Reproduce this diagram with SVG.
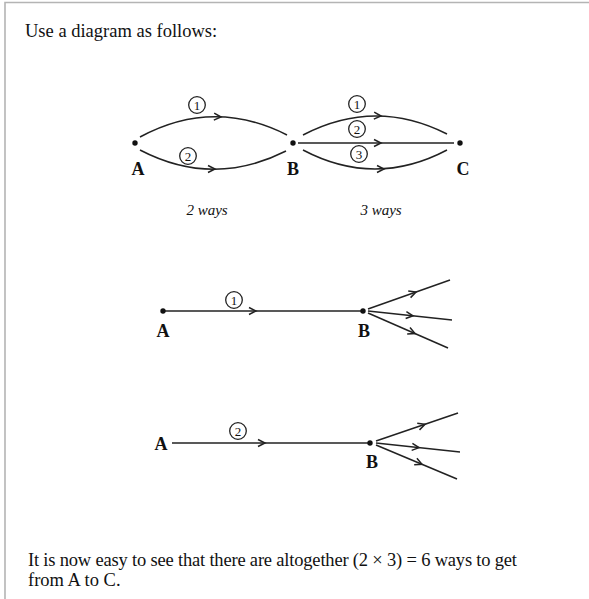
<svg xmlns="http://www.w3.org/2000/svg" xmlns:xlink="http://www.w3.org/1999/xlink" width="589" height="599" viewBox="0 0 589 599">
<style>
text{font-family:"Liberation Serif","Times New Roman",serif;fill:#111}
.body{font-size:18.5px}
.lbl{font-size:18px;font-weight:bold;text-anchor:middle}
.ways{font-size:15px;font-style:italic;text-anchor:middle}
.num{font-size:13px;text-anchor:middle}
.edge{fill:none;stroke:#222;stroke-width:1.5}
.ring{fill:#fff;stroke:#222;stroke-width:1.3}
.dot{fill:#111}
.chev{fill:none;stroke:#222;stroke-width:1.5;stroke-linejoin:miter}
</style>
<defs>
<path id="chev" class="chev" d="M-7,-3.5 L0,0 L-7,3.5"/>
</defs>
<rect width="589" height="599" fill="#fff"/>
<path d="M5,599 V2.5 H589" fill="none" stroke="#b4b4b4" stroke-width="1.6"/>

<text class="body" x="25" y="37">Use a diagram as follows:</text>

<g id="connectors">
  <path class="edge" d="M140,137 Q213,97.5 287,135"/>
  <use xlink:href="#chev" transform="translate(221,117) rotate(3)"/>
  <path class="edge" d="M140,150 Q213,188 286,151"/>
  <use xlink:href="#chev" transform="translate(215,169)"/>
  <path class="edge" d="M303,135 Q375,97.5 447,134"/>
  <use xlink:href="#chev" transform="translate(381,116) rotate(3)"/>
  <path class="edge" d="M298,143 H454"/>
  <use xlink:href="#chev" transform="translate(381,143)"/>
  <path class="edge" d="M303,150 Q375,188 447,150"/>
  <use xlink:href="#chev" transform="translate(384,169)"/>
  <path class="edge" d="M163,311 H363"/>
  <use xlink:href="#chev" transform="translate(256,311)"/>
  <path class="edge" d="M368,309 L450,280"/>
  <use xlink:href="#chev" transform="translate(416,292) rotate(-19.5)"/>
  <path class="edge" d="M368,311 L452,320"/>
  <use xlink:href="#chev" transform="translate(413,315.8) rotate(6.1)"/>
  <path class="edge" d="M368,313 L448,348"/>
  <use xlink:href="#chev" transform="translate(415,333.5) rotate(23.6)"/>
  <path class="edge" d="M172,443 H370"/>
  <use xlink:href="#chev" transform="translate(265,443)"/>
  <path class="edge" d="M376,441 L458,413"/>
  <use xlink:href="#chev" transform="translate(425,424.3) rotate(-18.9)"/>
  <path class="edge" d="M376,443 L460,452"/>
  <use xlink:href="#chev" transform="translate(419,447.6) rotate(6.1)"/>
  <path class="edge" d="M376,445 L457,479"/>
  <use xlink:href="#chev" transform="translate(422,464.3) rotate(22.8)"/>
</g>

<g id="path-labels">
  <circle class="ring" cx="197" cy="105" r="8.3"/><text class="num" x="197" y="109.5">1</text>
  <circle class="ring" cx="188" cy="156" r="8.3"/><text class="num" x="188" y="160.5">2</text>
  <circle class="ring" cx="357" cy="104" r="8.3"/><text class="num" x="357" y="108.5">1</text>
  <circle class="ring" cx="357" cy="129" r="8.3"/><text class="num" x="357" y="133.5">2</text>
  <circle class="ring" cx="359" cy="154" r="8.3"/><text class="num" x="359" y="158.5">3</text>
  <circle class="ring" cx="234" cy="300" r="8.3"/><text class="num" x="234" y="304.5">1</text>
  <circle class="ring" cx="238" cy="431" r="8.3"/><text class="num" x="238" y="435.5">2</text>
</g>

<g id="node-A1"><circle class="dot" cx="135" cy="143" r="2.7"/><text class="lbl" x="138" y="175">A</text></g>
<g id="node-B1"><circle class="dot" cx="293" cy="143" r="2.7"/><text class="lbl" x="293" y="175">B</text></g>
<g id="node-C1"><circle class="dot" cx="460" cy="143" r="2.7"/><text class="lbl" x="463" y="175">C</text></g>
<g id="node-A2"><circle class="dot" cx="163" cy="311" r="2.7"/><text class="lbl" x="163" y="337">A</text></g>
<g id="node-B2"><circle class="dot" cx="363" cy="311" r="2.7"/><text class="lbl" x="364" y="337">B</text></g>
<g id="node-A3"><text class="lbl" x="161" y="450">A</text></g>
<g id="node-B3"><circle class="dot" cx="370" cy="443" r="2.7"/><text class="lbl" x="372" y="468">B</text></g>

<text class="ways" x="207" y="215">2 ways</text>
<text class="ways" x="381" y="215">3 ways</text>

<text class="body" x="28" y="566" textLength="489" lengthAdjust="spacing">It is now easy to see that there are altogether (2 × 3) = 6 ways to get</text>
<text class="body" x="28" y="586">from A to C.</text>
</svg>
